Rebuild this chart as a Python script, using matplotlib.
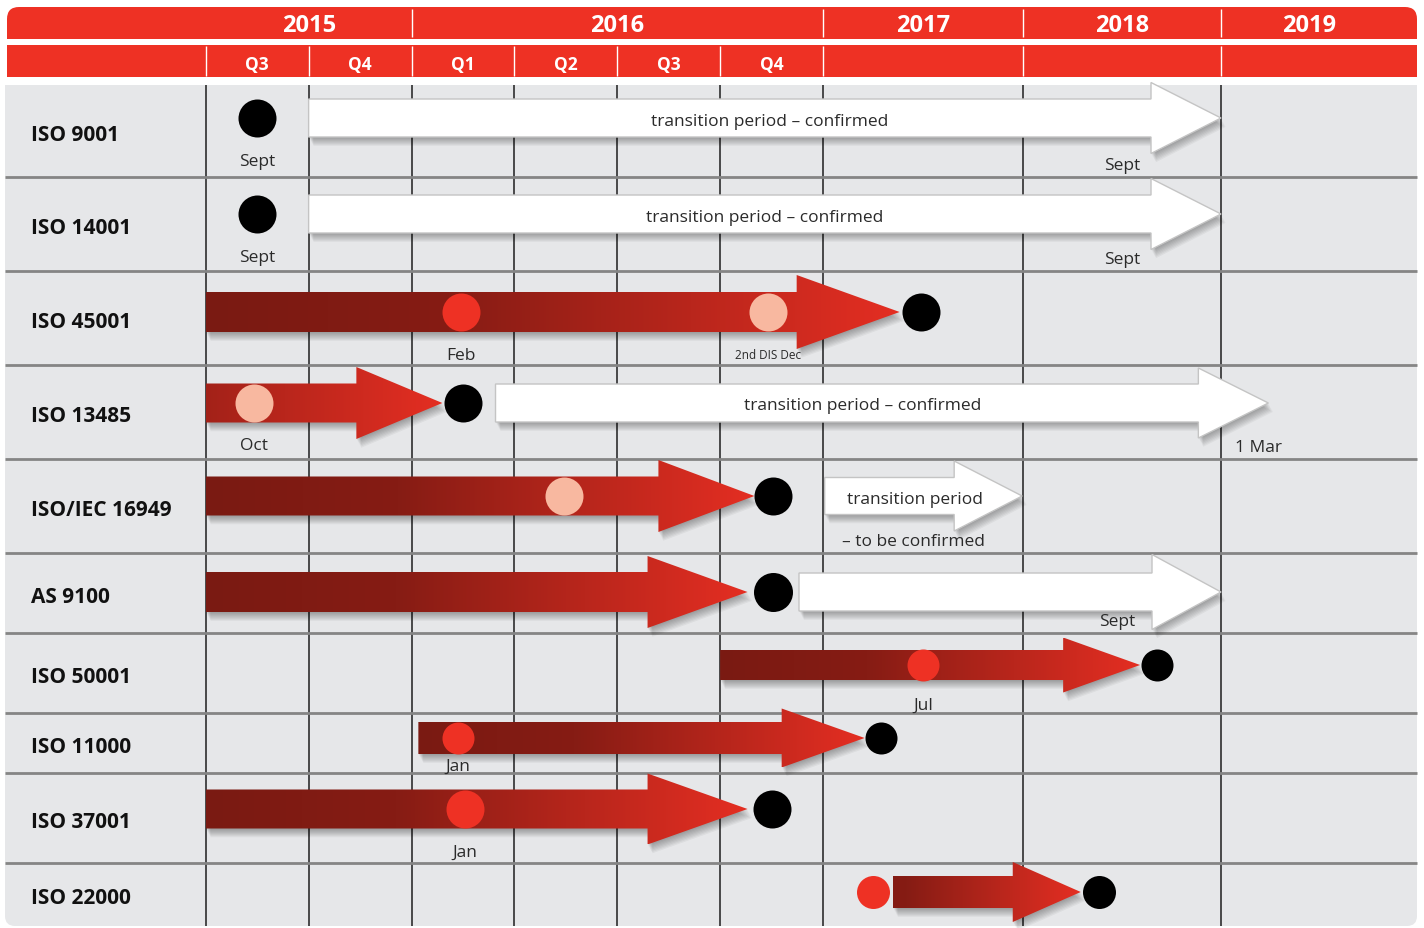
import numpy as np
import matplotlib
matplotlib.use("Agg")
import matplotlib.pyplot as plt
from matplotlib.patches import Polygon, FancyBboxPatch, Rectangle
from matplotlib.colors import LinearSegmentedColormap

plt.rcParams['font.family'] = ['Open Sans', 'DejaVu Sans']

# ---- data (x values are months after 1 July 2015) ----
standards = ["ISO 9001", "ISO 14001", "ISO 45001", "ISO 13485", "ISO/IEC 16949",
             "AS 9100", "ISO 50001", "ISO 11000", "ISO 37001", "ISO 22000"]
years = ["2015", "2016", "2017", "2018", "2019"]
year_mid = [3, 12, 24, 36, 47.4]
year_edges = [6, 18, 30, 42]
quarters = ["Q3", "Q4", "Q1", "Q2", "Q3", "Q4"]
quarter_mid = [1.5, 4.5, 7.5, 10.5, 13.5, 16.5]
grid_months = [0, 3, 6, 9, 12, 15, 18, 30, 42]

# milestone dots
dot_row = [0, 1, 2, 2, 2, 3, 3, 4, 4, 5, 6, 6, 7, 7, 8, 8, 9, 9]
dot_month = [1.5, 1.5, 7.45, 16.4, 23.9, 1.4, 7.5, 10.45, 16.55, 16.55,
             24.0, 38.1, 7.35, 21.5, 7.55, 16.5, 21.0, 34.6]
dot_kind = ["black", "black", "red", "pale", "black", "pale", "black", "pale", "black", "black",
            "red", "black", "red", "black", "red", "black", "red", "black"]
dot_label = ["Sept", "Sept", "Feb", "2nd DIS Dec", "", "Oct", "", "", "", "",
             "Jul", "", "Jan", "", "Jan", "", "", ""]

# development arrows (red)
red_row = [2, 3, 4, 5, 6, 7, 8, 9]
red_start = [0, 0, 0, 0, 15.0, 6.2, 0, 22.2]
red_end = [22.6, 6.9, 16.0, 15.8, 37.1, 20.5, 15.8, 33.5]

# transition periods (white arrows)
white_row = [0, 1, 3, 4, 5]
white_start = [3.0, 3.0, 8.45, 18.1, 17.3]
white_end = [42.0, 42.0, 44.9, 29.95, 42.0]
white_text = ["transition period – confirmed", "transition period – confirmed",
              "transition period – confirmed", "transition period", ""]
white_text_month = [16.45, 16.3, 20.4, 23.5, 0]

# notes under the transition arrows
note_row = [0, 1, 3, 4, 5]
note_month = [36.0, 36.0, 44.3, 23.4, 35.7]
note_text = ["Sept", "Sept", "1 Mar", "– to be confirmed", "Sept"]

# ---- layout ----
ROW_EDGES = [86, 178, 272, 366, 460, 554, 634, 714, 774, 864, 927]
TRACK_OFF = [33, 37, 41, 38, 37, 39, 32, 25, 36, 29]
DOT_R = [19, 19, 19, 19, 19, 19.5, 16, 16, 19, 16.5]
RED_SHAPE = [(20, 37, 103), (19.5, 36, 86), (19.5, 36, 96), (20, 36, 100),
             (15, 27.5, 77), (16, 29.5, 83), (19.5, 35.5, 100), (16, 30, 68)]
RED_SHADE0 = [0, 0.55, 0, 0, 0, 0, 0, 0.3]
WHITE_SHAPE = [(19, 35.5, 70), (19, 35.5, 70), (19, 35, 70), (18.5, 35, 68), (19, 37.5, 69)]
TY = 2.5  # text baseline nudge

RED = '#ee3124'
PALE = '#f8b8a0'
BG = '#e6e7e9'
SEP = '#858585'
GRID = '#2e2e2e'
TXT = '#2a2a2a'
dot_colors = {"black": "black", "red": RED, "pale": PALE}
grad = LinearSegmentedColormap.from_list(
    "arrow", [(0, '#7a1a12'), (0.35, '#861c14'), (0.7, '#b9261c'), (1, '#e42e22')])

MONTH_KNOTS = [-60, -6, 18, 30, 42, 54, 90]
PX_KNOTS = [-1851.75, 0, 823, 1023, 1221, 1417, 1417 + 36 * 16.33]


def fwd(m):
    return np.interp(m, MONTH_KNOTS, PX_KNOTS)


def inv(p):
    return np.interp(p, PX_KNOTS, MONTH_KNOTS)


fig = plt.figure(figsize=(14.24, 9.29), dpi=100)
ax = fig.add_axes([0, 0, 1, 1])
ax.set_xscale('function', functions=(fwd, inv))
ax.set_xlim(inv(0), inv(1424))
ax.set_ylim(929, 0)
ax.set_autoscale_on(False)
ax.axis('off')

S = ax.transLimits + ax.transAxes  # scaled (pixel-like) space


def px(m):
    m = np.atleast_1d(np.asarray(m, dtype=float))
    return ax.transScale.transform(np.column_stack([m, np.zeros_like(m)]))[:, 0]


left_px, right_px = 5, px(54)[0]

# header bands
ax.add_patch(FancyBboxPatch((left_px + 2, 8), right_px - left_px - 2, 32,
                            boxstyle="round,pad=0,rounding_size=12", transform=S,
                            fc=RED, ec='none', zorder=1))
ax.add_patch(Rectangle((left_px + 2, 24), right_px - left_px - 2, 16, transform=S,
                       fc=RED, ec='none', zorder=1))
ax.add_patch(Rectangle((left_px + 2, 46), right_px - left_px - 2, 32, transform=S,
                       fc=RED, ec='none', zorder=1))
ax.vlines(year_edges, 10, 38, color='white', lw=1, zorder=2)
ax.vlines(grid_months, 47, 77, color='white', lw=1, zorder=2)
for lab, m in zip(years, year_mid):
    ax.text(m, 23 + TY, lab, color='white', fontsize=17, fontweight='bold',
            ha='center', va='center', zorder=3)
for lab, m in zip(quarters, quarter_mid):
    ax.text(m, 63 + 1.5, lab, color='white', fontsize=12.5, fontweight='bold',
            ha='center', va='center', zorder=3)

# table body
ax.add_patch(FancyBboxPatch((left_px, ROW_EDGES[0]), right_px - left_px, ROW_EDGES[-1] - ROW_EDGES[0],
                            boxstyle="round,pad=0,rounding_size=10", transform=S,
                            fc=BG, ec='none', zorder=1))
ax.add_patch(Rectangle((left_px, ROW_EDGES[0]), right_px - left_px, 40, transform=S,
                       fc=BG, ec='none', zorder=1))
ax.vlines(grid_months, ROW_EDGES[0], ROW_EDGES[-1], color=GRID, lw=1.2, zorder=2)
ax.hlines(ROW_EDGES[1:-1], inv(left_px), 54, color=SEP, lw=2, zorder=2)

track = [ROW_EDGES[i] + TRACK_OFF[i] for i in range(len(standards))]
for i, name in enumerate(standards):
    ax.text(inv(31), (ROW_EDGES[i] + ROW_EDGES[i + 1]) / 2 + 1 + TY, name, color='#111111',
            fontsize=15, fontweight='bold', ha='left', va='center', zorder=3)


def arrow_pts(m0, m1, yc, shape):
    sh, hh, hl = shape
    x0, xt = px([m0, m1])
    xb = xt - hl
    return np.array([(x0, yc - sh), (xb, yc - sh), (xb, yc - hh), (xt, yc),
                     (xb, yc + hh), (xb, yc + sh), (x0, yc + sh)])


def shadow(pts):
    for k in range(1, 9):
        ax.add_patch(Polygon(pts + [0.6 * k, 1.1 * k], closed=True, transform=S,
                             fc='black', ec='none', alpha=0.045, zorder=3))


# white transition arrows
for r, m0, m1, txt, tm, shape in zip(white_row, white_start, white_end, white_text,
                                      white_text_month, WHITE_SHAPE):
    pts = arrow_pts(m0, m1, track[r], shape)
    shadow(pts)
    ax.add_patch(Polygon(pts, closed=True, transform=S, fc='white', ec='#c4c4c4',
                         lw=1, zorder=4))
    if txt:
        ax.text(tm, track[r] + TY, txt, color=TXT, fontsize=12.5, ha='center',
                va='center', zorder=6)

for r, m, txt in zip(note_row, note_month, note_text):
    ax.text(m, ROW_EDGES[r + 1] - 15 + TY, txt, color=TXT, fontsize=12.5,
            ha='center', va='center', zorder=6)

# red development arrows with gradient fill
for r, m0, m1, shape, t0 in zip(red_row, red_start, red_end, RED_SHAPE, RED_SHADE0):
    pts = arrow_pts(m0, m1, track[r], shape)
    shadow(pts)
    poly = Polygon(pts, closed=True, transform=S, fc='none', ec='none', zorder=4)
    ax.add_patch(poly)
    im = ax.imshow(np.linspace(t0, 1, 256)[None, :], cmap=grad, vmin=0, vmax=1,
                   aspect='auto', interpolation='bilinear', zorder=4,
                   extent=(pts[0, 0], pts[3, 0], track[r] + shape[1], track[r] - shape[1]),
                   transform=S)
    im.set_clip_path(poly)

# milestone dots and labels
for r, m, kind, lab in zip(dot_row, dot_month, dot_kind, dot_label):
    d_pt = 2 * DOT_R[r] * 72 / 100
    ax.scatter([m], [track[r]], s=d_pt ** 2, color=dot_colors[kind], lw=0, zorder=7)
    if lab:
        y = min(track[r] + DOT_R[r] + 21, ROW_EDGES[r + 1] - 10) + TY
        small = lab.startswith("2nd")
        ax.text(m, y, lab, color=TXT, fontsize=8.5 if small else 12.5,
                ha='center', va='center', zorder=8)

fig.savefig("out.png", dpi=100, facecolor='white')
